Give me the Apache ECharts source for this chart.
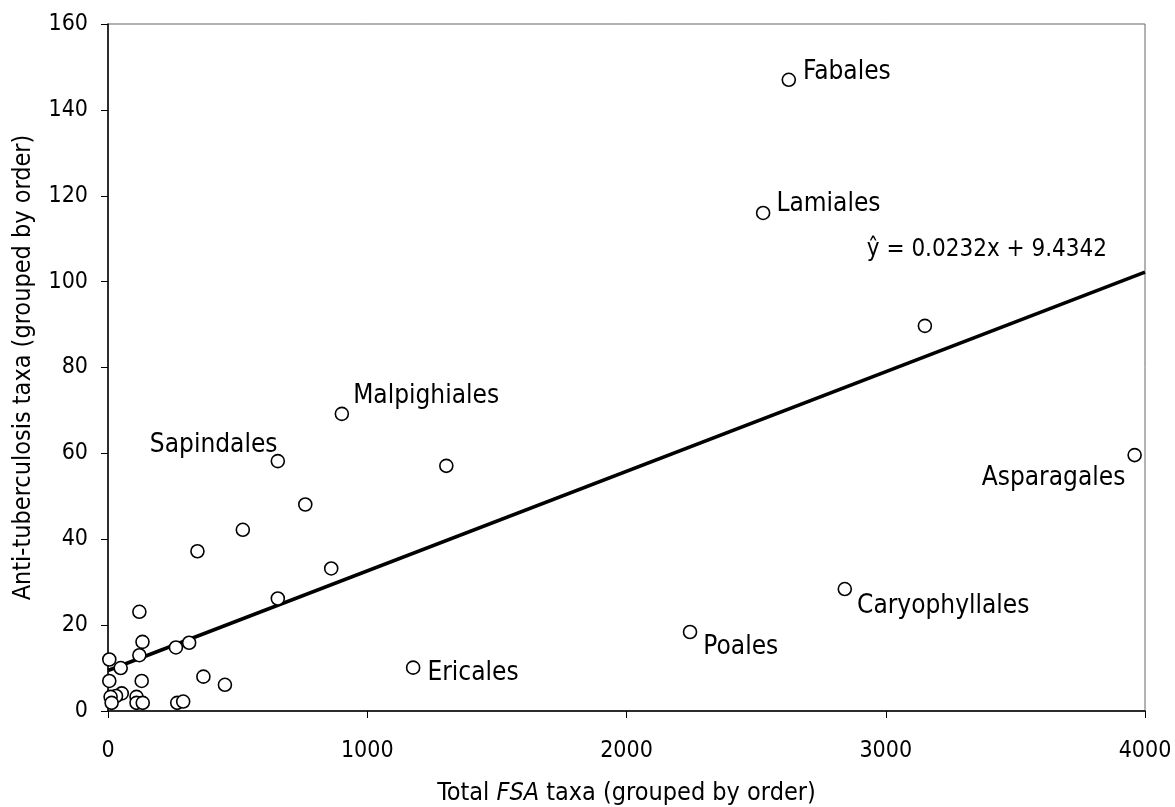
<!DOCTYPE html>
<html>
<head>
<meta charset="utf-8">
<script src="https://cdn.jsdelivr.net/npm/echarts@6/dist/echarts.min.js"></script>
<style>
html,body{margin:0;padding:0;background:#fff;}
#chart{width:1175px;height:807px;}
</style>
</head>
<body>
<div id="chart"></div>
<script>
// Data
const fsaTaxa = [2626, 2527, 3151, 3960, 2842, 2245, 1177, 902, 655, 1305, 761, 520, 345, 861, 655,
                 121, 133, 121, 5, 49, 262, 313, 5, 130, 368, 451, 53, 31, 10, 110, 14, 110, 134, 267, 290];
const tbTaxa  = [147, 116, 89.7, 59.6, 28.4, 18.4, 10.1, 69.2, 58.2, 57.1, 48.1, 42.2, 37.2, 33.2, 26.2,
                 23.1, 16.1, 13, 12, 10, 14.8, 15.9, 7, 7, 8, 6.1, 4.1, 3.5, 3.3, 3.3, 1.9, 1.9, 1.9, 1.9, 2.2];
const orderNames = ['Fabales', 'Lamiales', '', 'Asparagales', 'Caryophyllales', 'Poales', 'Ericales',
                    'Malpighiales', 'Sapindales', '', '', '', '', '', '',
                    '', '', '', '', '', '', '', '', '', '', '', '', '', '', '', '', '', '', '', ''];
const slope = 0.0232;
const intercept = 9.4342;
const equationText = 'ŷ = 0.0232x + 9.4342';
const xTicks = [0, 1000, 2000, 3000, 4000];
const yTicks = [0, 20, 40, 60, 80, 100, 120, 140, 160];

const FONT = "'DejaVu Sans Condensed', 'DejaVu Sans', sans-serif";
const INK = '#000';

// label placement (style, not data)
const labelPlacement = {
  'Fabales':        {position: 'right', offset: [2, -8]},
  'Lamiales':       {position: 'right', offset: [1, -9]},
  'Asparagales':    {position: 'left',  offset: [3, 23]},
  'Caryophyllales': {position: 'right', offset: [0, 17]},
  'Poales':         {position: 'right', offset: [1, 15]},
  'Ericales':       {position: 'right', offset: [2, 6]},
  'Malpighiales':   {position: 'right', offset: [-1, -18]},
  'Sapindales':     {position: 'left',  offset: [12, -16]}
};

const points = fsaTaxa.map((x, i) => {
  const name = orderNames[i];
  const d = {value: [x, tbTaxa[i]], name: name};
  if (name) {
    const p = labelPlacement[name];
    d.label = {show: true, position: p.position, offset: p.offset, formatter: name,
               color: INK, fontFamily: FONT, fontSize: 26, textBorderWidth: 0};
  }
  return d;
});

const xMin = xTicks[0], xMax = xTicks[xTicks.length - 1];
const trend = [[xMin, intercept + slope * xMin], [xMax, intercept + slope * xMax]];

const chart = echarts.init(document.getElementById('chart'));
chart.setOption({
  backgroundColor: '#fff',
  animation: false,
  textStyle: {fontFamily: FONT, color: INK},
  grid: {left: 108, right: 30, top: 24, bottom: 96, show: true, borderColor: '#666', borderWidth: 1,
         containLabel: false, outerBoundsMode: 'none'},
  xAxis: {
    type: 'value', min: xMin, max: xMax, interval: 1000,
    name: '{n|Total }{i|FSA}{n| taxa (grouped by order)}',
    nameLocation: 'middle', nameGap: 70,
    nameTextStyle: {
      rich: {
        n: {fontFamily: FONT, fontSize: 25, color: INK},
        i: {fontFamily: FONT, fontSize: 25, color: INK, fontStyle: 'italic'}
      }
    },
    axisLine: {show: true, onZero: false, lineStyle: {color: INK, width: 1.5}},
    axisTick: {show: true, inside: false, length: 7, lineStyle: {color: INK}},
    axisLabel: {fontFamily: FONT, fontSize: 23, color: INK, margin: 29,
                formatter: v => String(v)},
    splitLine: {show: false}
  },
  yAxis: {
    type: 'value', min: yTicks[0], max: yTicks[yTicks.length - 1], interval: 20,
    name: 'Anti-tuberculosis taxa (grouped by order)',
    nameLocation: 'middle', nameGap: 72,
    nameTextStyle: {fontFamily: FONT, fontSize: 25, color: INK},
    axisLine: {show: true, onZero: false, lineStyle: {color: INK, width: 1.5}},
    axisTick: {show: true, inside: false, length: 7, lineStyle: {color: INK}},
    axisLabel: {fontFamily: FONT, fontSize: 23, color: INK, margin: 20,
                formatter: v => String(v)},
    splitLine: {show: false}
  },
  series: [
    {
      type: 'line',
      data: trend,
      symbol: 'none',
      lineStyle: {color: INK, width: 3.5},
      z: 2,
      markPoint: {
        symbol: 'circle', symbolSize: 1,
        itemStyle: {color: 'rgba(0,0,0,0)'},
        label: {show: true, position: 'right', distance: 0, fontFamily: FONT, fontSize: 24, color: INK,
                formatter: equationText},
        data: [{coord: [2925, 107.5]}]
      }
    },
    {
      type: 'scatter',
      data: points,
      symbol: 'circle',
      symbolSize: 13,
      itemStyle: {color: '#fff', borderColor: INK, borderWidth: 1.6, opacity: 1},
      label: {fontFamily: FONT, fontSize: 26, color: INK, distance: 5},
      emphasis: {disabled: true},
      z: 3
    }
  ]
});
</script>
</body>
</html>
